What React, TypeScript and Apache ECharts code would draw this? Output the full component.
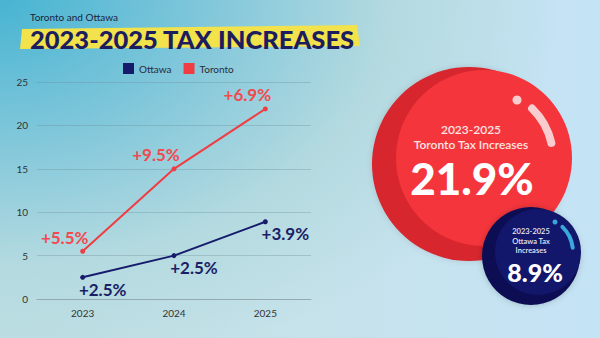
import React, { useEffect, useRef } from "react";
import * as echarts from "echarts";

const years = ["2023", "2024", "2025"];
const ottawaValues = [2.5, 5, 8.9];
const torontoValues = [5.5, 15, 21.9];
const ottawaLabels = ["+2.5%", "+2.5%", "+3.9%"];
const torontoLabels = ["+5.5%", "+9.5%", "+6.9%"];
const yMin = 0;
const yMax = 25;
const yInterval = 5;

const subtitle = "Toronto and Ottawa";
const title = "2023-2025 TAX INCREASES";
const torontoBubble = ["2023-2025", "Toronto Tax Increases", "21.9%"];
const ottawaBubble = ["2023-2025", "Ottawa Tax", "Increases", "8.9%"];

const NAVY = "#161b6c";
const RED = "#f03c43";
const FONT = "Lato, 'Open Sans', sans-serif";

export default function App() {
  const ref = useRef<HTMLDivElement>(null);
  useEffect(() => {
    if (!ref.current) return;
    const chart = echarts.init(ref.current, undefined, { renderer: "svg" });
    const txt = (x: number, y: number, text: string, size: number, weight: any, fill: string, align = "center") => ({
      type: "text",
      x,
      y,
      style: { text, fontSize: size, fontWeight: weight, fill, fontFamily: FONT, align, verticalAlign: "middle" },
    });
    chart.setOption({
      animation: false,
      backgroundColor: "transparent",
      textStyle: { fontFamily: FONT },
      legend: {
        data: ["Ottawa", "Toronto"],
        left: 123,
        top: 63,
        padding: 0,
        icon: "rect",
        itemWidth: 11,
        itemHeight: 11,
        itemGap: 12,
        textStyle: { fontSize: 10, color: "#2b2b3a", fontFamily: FONT },
      },
      grid: { left: 37, right: 289, top: 82, bottom: 39, containLabel: false },
      xAxis: {
        type: "category",
        data: years,
        boundaryGap: true,
        axisLine: { lineStyle: { color: "#93aab0", width: 1 } },
        axisTick: { show: false },
        axisLabel: { color: "#333", fontSize: 10, margin: 9, fontFamily: FONT },
      },
      yAxis: {
        type: "value",
        min: yMin,
        max: yMax,
        interval: yInterval,
        axisLine: { show: false },
        axisTick: { show: false },
        axisLabel: { color: "#333", fontSize: 10, margin: 9, fontFamily: FONT },
        splitLine: { lineStyle: { color: "rgba(110,140,150,0.35)", width: 1 } },
      },
      series: [
        {
          name: "Ottawa",
          type: "line",
          data: ottawaValues,
          color: NAVY,
          symbol: "circle",
          symbolSize: 5,
          lineStyle: { width: 2, color: NAVY },
          itemStyle: { color: NAVY },
          label: {
            show: true,
            position: "bottom",
            offset: [20, -4],
            formatter: (p: any) => ottawaLabels[p.dataIndex],
            fontSize: 17,
            fontWeight: "bold",
            color: "#1b1f66",
            fontFamily: FONT,
          },
        },
        {
          name: "Toronto",
          type: "line",
          data: torontoValues,
          color: RED,
          symbol: "circle",
          symbolSize: 5,
          lineStyle: { width: 2, color: RED },
          itemStyle: { color: RED },
          label: {
            show: true,
            position: "top",
            offset: [-18, 2],
            formatter: (p: any) => torontoLabels[p.dataIndex],
            fontSize: 17,
            fontWeight: "bold",
            color: "#f14a4f",
            fontFamily: FONT,
          },
        },
      ],
      graphic: [
        {
          type: "polygon",
          shape: { points: [[22, 29], [357, 25], [360, 46], [20, 49]] },
          style: { fill: "#f2e24b" },
          z: 1,
        },
        { ...txt(30, 17, subtitle, 10, "normal", "#1a1f3c", "left"), z: 2 },
        { ...txt(30, 38.5, title, 25.5, 900, "#1b1d5e", "left"), z: 2 },
        // Toronto coin
        { type: "circle", shape: { cx: 469, cy: 164, r: 97 }, style: { fill: "#d7252f", shadowBlur: 6, shadowColor: "rgba(0,0,0,0.12)" }, z: 3 },
        { type: "circle", shape: { cx: 484, cy: 158, r: 88 }, style: { fill: "#f4363c" }, z: 4 },
        { type: "circle", shape: { cx: 517, cy: 100, r: 4.5 }, style: { fill: "#f9cdd0" }, z: 5 },
        {
          type: "arc",
          shape: { cx: 484, cy: 158, r: 69, startAngle: -0.8, endAngle: -0.22, clockwise: true },
          style: { stroke: "#f9cdd0", lineWidth: 8, lineCap: "round", fill: "none" },
          z: 5,
        },
        { ...txt(471, 129, torontoBubble[0], 12, 600, "#fde4e4"), z: 6 },
        { ...txt(471, 144.5, torontoBubble[1], 12, 600, "#fde4e4"), z: 6 },
        { ...txt(472, 178, torontoBubble[2], 44, 900, "#ffffff"), z: 6 },
        // Ottawa coin
        { type: "circle", shape: { cx: 531, cy: 256, r: 49 }, style: { fill: "#0b0f52", shadowBlur: 6, shadowColor: "rgba(0,0,0,0.2)" }, z: 7 },
        { type: "circle", shape: { cx: 538, cy: 252, r: 43 }, style: { fill: "#12176b" }, z: 8 },
        { type: "circle", shape: { cx: 555, cy: 222, r: 2.5 }, style: { fill: "#3aa8dc" }, z: 9 },
        {
          type: "arc",
          shape: { cx: 538, cy: 252, r: 35, startAngle: -0.8, endAngle: -0.12, clockwise: true },
          style: { stroke: "#3aa8dc", lineWidth: 4, lineCap: "round", fill: "none" },
          z: 9,
        },
        { ...txt(531, 231.5, ottawaBubble[0], 7.5, 600, "#e8e8f2"), z: 10 },
        { ...txt(531, 241, ottawaBubble[1], 7.5, 600, "#e8e8f2"), z: 10 },
        { ...txt(531, 250.5, ottawaBubble[2], 7.5, 600, "#e8e8f2"), z: 10 },
        { ...txt(535, 272, ottawaBubble[3], 25, 900, "#ffffff"), z: 10 },
      ],
    });
    return () => chart.dispose();
  }, []);

  return (
    <div
      style={{
        position: "fixed",
        left: 0,
        top: 0,
        width: 600,
        height: 338,
        background:
          "radial-gradient(ellipse 560px 380px at 0% 0%, #47b4d2 0%, #7ec6da 35%, #b4dae0 70%, rgba(190,224,232,0) 100%), linear-gradient(90deg, #bfdfe3 0%, #c6e2ea 50%, #c4e3f5 100%)",
      }}
    >
      <div ref={ref} style={{ width: 600, height: 338 }} />
    </div>
  );
}
